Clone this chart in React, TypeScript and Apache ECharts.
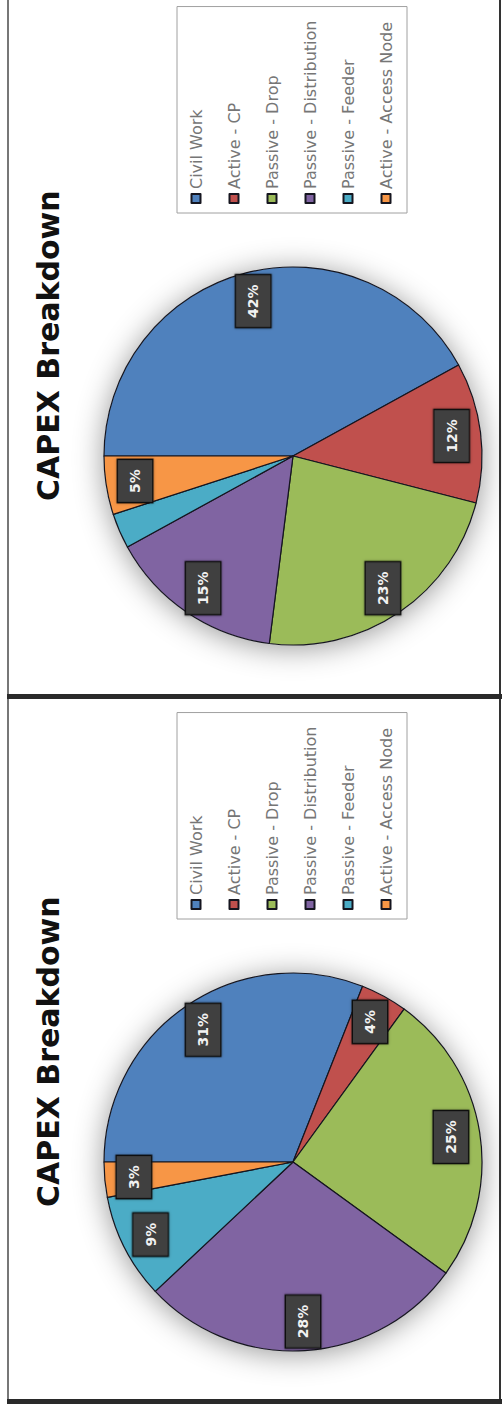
import React, { useEffect, useRef } from "react";
import * as echarts from "echarts";

const categories = [
  "Civil Work",
  "Active - CP",
  "Passive - Drop",
  "Passive - Distribution",
  "Passive - Feeder",
  "Active - Access Node",
];
const sliceColors = ["#4F81BD", "#C0504D", "#9BBB59", "#8064A2", "#4BACC6", "#F79646"];
const leftPanelValues = [31, 4, 25, 28, 9, 3];
const rightPanelValues = [42, 12, 23, 15, 3, 5];
const chartTitle = "CAPEX Breakdown";

// unrotated drawing frame (the page shows it turned 90° counter-clockwise)
const FRAME_W = 1409;
const FRAME_H = 502;
const FONT = "DejaVu Sans";

export default function App() {
  const ref = useRef<HTMLDivElement>(null);

  useEffect(() => {
    if (!ref.current) return;
    const chart = echarts.init(ref.current, undefined, { renderer: "svg" });

    const R = 189;
    const panels = [
      { values: leftPanelValues, center: [247, 293], titleLeft: 202, legendLeft: 490 },
      { values: rightPanelValues, center: [953, 293], titleLeft: 908, legendLeft: 1196 },
    ];

    const series: any[] = [];
    panels.forEach((p) => {
      series.push({
        type: "pie",
        center: p.center,
        radius: R,
        silent: true,
        z: 1,
        label: { show: false },
        labelLine: { show: false },
        itemStyle: {
          color: "#ffffff",
          shadowBlur: 30,
          shadowOffsetX: -3,
          shadowColor: "rgba(0,0,0,0.42)",
        },
        data: [{ value: 1 }],
      });
    });
    panels.forEach((p) => {
      series.push({
        type: "pie",
        center: p.center,
        radius: R,
        startAngle: 90,
        clockwise: true,
        silent: true,
        z: 2,
        label: { show: false },
        labelLine: { show: false },
        itemStyle: { borderColor: "#15151f", borderWidth: 1.2 },
        data: categories.map((name, i) => ({
          name,
          value: p.values[i],
          itemStyle: { color: sliceColors[i] },
        })),
      });
    });
    panels.forEach((p) => {
      series.push({
        type: "pie",
        center: p.center,
        radius: [R * 0.66, R],
        startAngle: 90,
        clockwise: true,
        silent: true,
        z: 3,
        itemStyle: { color: "rgba(0,0,0,0)", borderWidth: 0 },
        labelLine: { show: false },
        label: {
          show: true,
          position: "inside",
          formatter: "{c}%",
          color: "#f2f2f2",
          fontFamily: FONT,
          fontSize: 14,
          fontWeight: "bold",
          backgroundColor: "#404040",
          borderColor: "#111111",
          borderWidth: 1.5,
          padding: [10, 9],
          shadowBlur: 3,
          shadowColor: "rgba(0,0,0,0.3)",
        },
        data: categories.map((name, i) => ({ name, value: p.values[i] })),
      });
    });

    const option: any = {
      animation: false,
      backgroundColor: "#ffffff",
      title: panels.map((p) => ({
        text: chartTitle,
        left: p.titleLeft,
        top: 33,
        padding: 0,
        textStyle: { fontFamily: FONT, fontSize: 30, fontWeight: "bold", color: "#111111" },
      })),
      legend: panels.map((p) => ({
        orient: "vertical",
        left: p.legendLeft,
        top: 177,
        data: categories,
        icon: "rect",
        itemWidth: 9,
        itemHeight: 9,
        itemGap: 22,
        itemTextGap: 5,
        selectedMode: false,
        padding: [11, 14, 13, 9],
        borderColor: "#a0a0a0",
        borderWidth: 1,
        textStyle: { fontFamily: FONT, fontSize: 16, lineHeight: 16, color: "#767676" },
      })),
      graphic: [
        { type: "rect", shape: { x: 8, y: 7, width: 1401, height: 2 }, style: { fill: "#777777" }, silent: true },
        { type: "rect", shape: { x: 8, y: 499, width: 1401, height: 2 }, style: { fill: "#333333" }, silent: true },
        { type: "rect", shape: { x: 710, y: 7, width: 5, height: 495 }, style: { fill: "#2a2a2a" }, silent: true },
        { type: "rect", shape: { x: 5, y: 7, width: 5, height: 495 }, style: { fill: "#2a2a2a" }, silent: true },
      ],
      series,
    };

    chart.setOption(option);
    return () => chart.dispose();
  }, []);

  return (
    <div
      style={{
        position: "fixed",
        left: 0,
        top: 0,
        width: FRAME_H,
        height: FRAME_W,
        overflow: "hidden",
        background: "#ffffff",
      }}
    >
      <div
        ref={ref}
        style={{
          position: "absolute",
          left: 0,
          top: 0,
          width: FRAME_W,
          height: FRAME_H,
          transformOrigin: "0 0",
          transform: `translateY(${FRAME_W}px) rotate(-90deg)`,
        }}
      />
    </div>
  );
}
